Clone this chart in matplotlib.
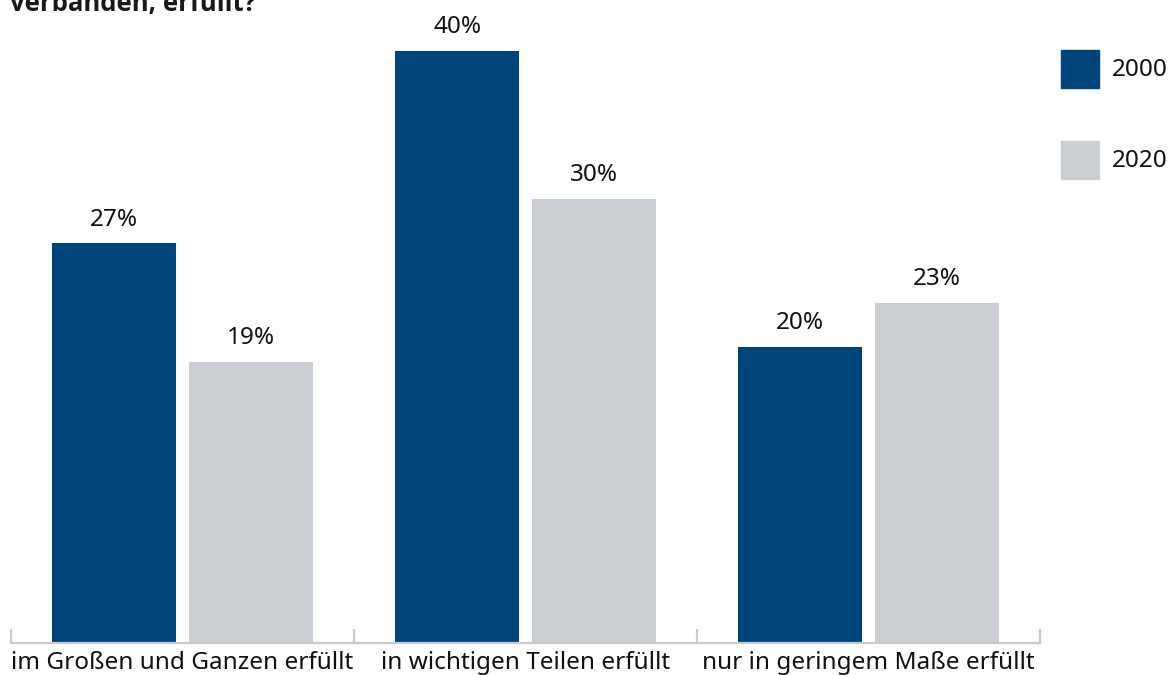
import matplotlib
matplotlib.use("Agg")
import matplotlib.pyplot as plt
import numpy as np
from matplotlib.patches import Rectangle

categories = ["im Großen und Ganzen erfüllt", "in wichtigen Teilen erfüllt", "nur in geringem Maße erfüllt"]
series_names = ["2000", "2020"]
values_2000 = [27, 40, 20]
values_2020 = [19, 30, 23]
title_text = "verbanden, erfüllt?"

DARK = "#00447C"
GREY = "#CBCED2"
AXIS = "#C8CCD0"

plt.rcParams['font.family'] = ['Noto Sans', 'DejaVu Sans']

W, H = 1176, 675
fig = plt.figure(figsize=(W / 100, H / 100), dpi=100)

x0, x1 = 11, 1040
y_base, y_top = 643, 51
ax = fig.add_axes([x0 / W, 1 - y_base / H, (x1 - x0) / W, (y_base - y_top) / H])

x = np.arange(len(categories))
bw = 0.362
off = 0.199
b1 = ax.bar(x - off, values_2000, width=bw, color=DARK, label=series_names[0], zorder=2)
b2 = ax.bar(x + off, values_2020, width=bw, color=GREY, label=series_names[1], zorder=2)

FS = 17.5
for bars in (b1, b2):
    for rect in bars:
        h = rect.get_height()
        ax.annotate(f"{h:g}%", (rect.get_x() + rect.get_width() / 2, h),
                    xytext=(0, 17), textcoords="offset points",
                    ha="center", va="center", fontsize=FS, color="#111111",
                    annotation_clip=False)

ax.set_xlim(-0.5, len(categories) - 0.5)
ax.set_ylim(0, 40)
for s in ("top", "right", "left"):
    ax.spines[s].set_visible(False)
ax.spines["bottom"].set_color(AXIS)
ax.spines["bottom"].set_linewidth(1.6)
ax.set_yticks([])
ax.set_xticks(x)
ax.set_xticklabels(categories, fontsize=FS, color="#111111")
ax.tick_params(axis="x", which="major", length=0, pad=6)
ax.set_xticks(np.arange(-0.5, len(categories)), minor=True)
ax.tick_params(axis="x", which="minor", direction="in", length=10, width=1.6, color=AXIS)

leg_items = [(series_names[0], DARK, 50), (series_names[1], GREY, 141)]
for name, col, ytop in leg_items:
    fig.patches.append(Rectangle((1061 / W, 1 - (ytop + 38) / H), 38 / W, 38 / H,
                                 transform=fig.transFigure, color=col))
    fig.text(1112 / W, 1 - (ytop + 20) / H, name, fontsize=FS, va="center", ha="left", color="#111111")

fig.text(10 / W, 1 - 11 / H, title_text, fontsize=18.5, fontweight="bold",
         family=["Open Sans", "DejaVu Sans"], va="baseline", ha="left", color="#1a1a1a")

fig.savefig("out.png", dpi=100)
